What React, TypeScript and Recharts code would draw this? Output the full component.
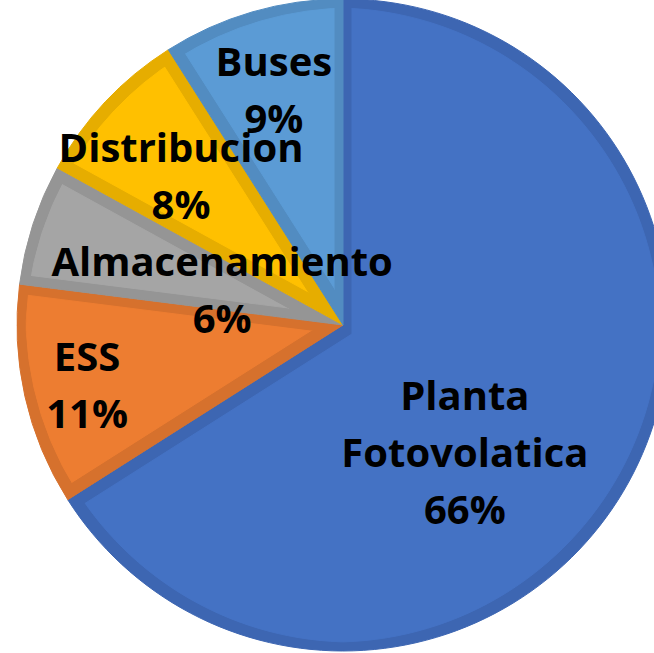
import { PieChart, Pie, Cell } from 'recharts';

const categories = ['Planta Fotovolatica', 'ESS', 'Almacenamiento', 'Distribucion', 'Buses'];
const shares = [66, 11, 6, 8, 9];

const fills = ['#4472C4', '#ED7D31', '#A5A5A5', '#FFC000', '#5B9BD5'];
const borders = ['#3D66B2', '#D6712D', '#959595', '#E6AD00', '#528CC1'];

// where Excel dropped each label: fraction of the radius, plus a nudge off the mid angle
const labelRadius = [0.542, 0.807, 0.386, 0.675, 0.751];
const labelTurn = [-17.6, 0.8, 1.9, 0.6, 0.2];

const RADIAN = Math.PI / 180;
const LINE_GAP = 57;
const CAP_HALF = 14;

const data = categories.map((name, i) => ({ name, value: shares[i] }));

function SliceLabel(props: any) {
  const { cx, cy, midAngle, outerRadius, index, name, percent } = props;
  const angle = (midAngle + labelTurn[index]) * RADIAN;
  const r = outerRadius * labelRadius[index];
  const x = cx + Math.cos(angle) * r;
  const y = cy - Math.sin(angle) * r;

  const lines = [...String(name).split(' '), `${Math.round(percent * 100)}%`];
  const firstBaseline = y - ((lines.length - 1) * LINE_GAP) / 2 + CAP_HALF;

  return (
    <text
      x={x}
      y={firstBaseline}
      textAnchor="middle"
      fill="#000"
      style={{ fontFamily: '"Open Sans", sans-serif', fontWeight: 700, fontSize: 40 }}
    >
      {lines.map((line, i) => (
        <tspan key={i} x={x} y={firstBaseline + i * LINE_GAP}>
          {line}
        </tspan>
      ))}
    </text>
  );
}

export default function App() {
  return (
    <div style={{ position: 'absolute', left: 0, top: 0, width: 654, height: 653, background: '#fff' }}>
      <PieChart width={654} height={653} margin={{ top: 0, right: 0, bottom: 0, left: 0 }}>
        <defs>
          {fills.map((c, i) => (
            <filter
              key={i}
              id={`inset-${i}`}
              x="-5%"
              y="-5%"
              width="110%"
              height="110%"
              colorInterpolationFilters="sRGB"
            >
              <feMorphology in="SourceAlpha" operator="erode" radius={9} result="shrunk" />
              <feFlood floodColor={c} result="tone" />
              <feComposite in="tone" in2="shrunk" operator="in" result="inner" />
              <feMerge>
                <feMergeNode in="SourceGraphic" />
                <feMergeNode in="inner" />
              </feMerge>
            </filter>
          ))}
        </defs>
        <Pie
          data={data}
          dataKey="value"
          nameKey="name"
          cx={343}
          cy={325}
          outerRadius={326}
          startAngle={90}
          endAngle={-270}
          labelLine={false}
          label={SliceLabel}
          isAnimationActive={false}
        >
          {data.map((d, i) => (
            <Cell
              key={d.name}
              fill={borders[i]}
              stroke={borders[i]}
              strokeWidth={1}
              filter={`url(#inset-${i})`}
            />
          ))}
        </Pie>
      </PieChart>
    </div>
  );
}
